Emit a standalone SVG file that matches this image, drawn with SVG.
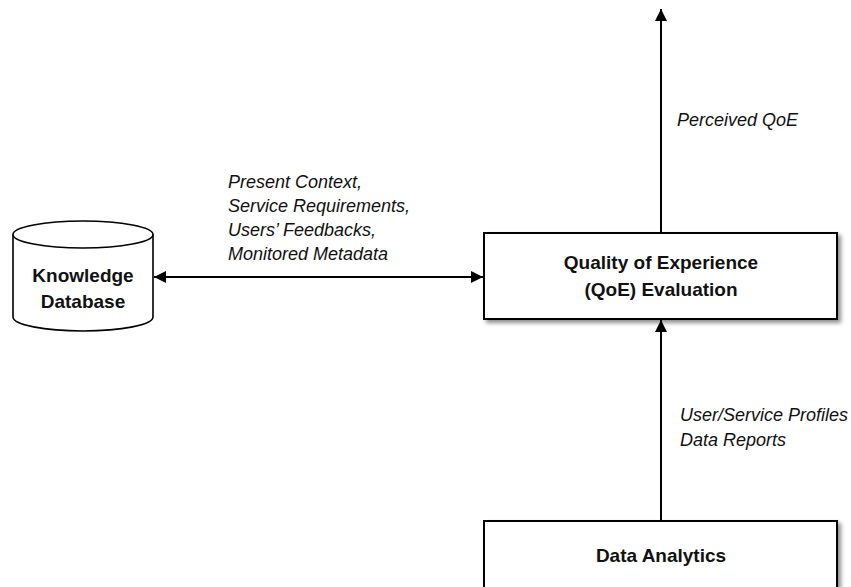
<svg xmlns="http://www.w3.org/2000/svg" width="851" height="587" viewBox="0 0 851 587">
  <style>
    .box { fill: #ffffff; stroke: #000000; stroke-width: 2; }
    .shape { fill: #ffffff; stroke: #000000; stroke-width: 1.6; }
    .title { font-family: "Liberation Sans", Arial, sans-serif; font-weight: bold; font-size: 19px; fill: #111111; text-anchor: middle; }
    .label { font-family: "Liberation Sans", Arial, sans-serif; font-style: italic; font-size: 18px; fill: #111111; }
    .wire { fill: none; stroke: #000000; stroke-width: 2; }
  </style>
  <defs>
    <marker id="arrow" viewBox="0 0 10 10" refX="10" refY="5" markerWidth="6" markerHeight="6" orient="auto-start-reverse" markerUnits="strokeWidth">
      <path d="M0,0 L10,5 L0,10 z" fill="#000000"/>
    </marker>
    <filter id="shadow" x="-10%" y="-10%" width="130%" height="140%">
      <feGaussianBlur in="SourceAlpha" stdDeviation="2"/>
      <feOffset dx="3" dy="3" result="blur"/>
      <feComponentTransfer><feFuncA type="linear" slope="0.45"/></feComponentTransfer>
      <feMerge><feMergeNode/><feMergeNode in="SourceGraphic"/></feMerge>
    </filter>
  </defs>

  <rect width="851" height="587" fill="#ffffff"/>

  <!-- connectors -->
  <g id="connectors">
    <line class="wire" x1="661" y1="233" x2="661" y2="9" marker-end="url(#arrow)"/>
    <line class="wire" x1="154" y1="277" x2="483" y2="277" marker-start="url(#arrow)" marker-end="url(#arrow)"/>
    <line class="wire" x1="661" y1="521" x2="661" y2="320" marker-end="url(#arrow)"/>
    <text class="label" x="677" y="126">Perceived QoE</text>
    <text class="label" x="228" y="188">Present Context,</text>
    <text class="label" x="228" y="212">Service Requirements,</text>
    <text class="label" x="228" y="236">Users’ Feedbacks,</text>
    <text class="label" x="228" y="260">Monitored Metadata</text>
    <text class="label" x="680" y="421">User/Service Profiles</text>
    <text class="label" x="680" y="446">Data Reports</text>
  </g>

  <!-- knowledge database cylinder -->
  <g id="knowledge-database">
    <path class="shape" d="M13,234.5 L13,317 A70,14 0 0 0 153,317 L153,234.5"/>
    <ellipse class="shape" cx="83" cy="234.5" rx="70" ry="13.5"/>
    <text class="title" x="83" y="282">Knowledge</text>
    <text class="title" x="83" y="308">Database</text>
  </g>

  <!-- QoE evaluation block -->
  <g id="qoe-evaluation">
    <rect class="box" x="484" y="233" width="353" height="86" filter="url(#shadow)"/>
    <text class="title" x="661" y="269">Quality of Experience</text>
    <text class="title" x="661" y="296">(QoE) Evaluation</text>
  </g>

  <!-- data analytics block -->
  <g id="data-analytics">
    <rect class="box" x="484" y="521" width="353" height="90" filter="url(#shadow)"/>
    <text class="title" x="661" y="562">Data Analytics</text>
  </g>
</svg>
